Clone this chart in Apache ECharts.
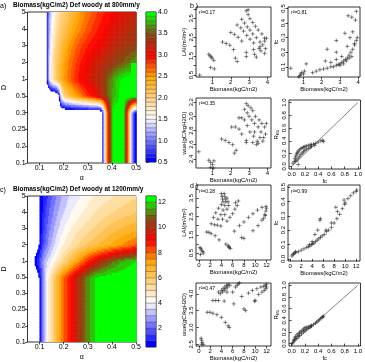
<!DOCTYPE html>
<html>
<head>
<meta charset="utf-8">
<script src="https://cdn.jsdelivr.net/npm/echarts@6/dist/echarts.min.js"></script>
<style>
  html, body { margin: 0; padding: 0; background: #fff; }
  #chart { width: 365px; height: 362px; }
</style>
</head>
<body>
<div id="chart"></div>
<script>
// ---- contour grids (alpha x D) ----
const alphaNodes = [0.05, 0.06, 0.07, 0.08, 0.09, 0.10, 0.11, 0.12, 0.13, 0.14, 0.15, 0.16, 0.17, 0.18, 0.19, 0.20,
  0.21, 0.22, 0.23, 0.24, 0.25, 0.26, 0.27, 0.28, 0.29, 0.30, 0.31, 0.32, 0.33, 0.34, 0.35, 0.36, 0.37, 0.38,
  0.39, 0.40, 0.41, 0.42, 0.43, 0.44, 0.45, 0.46, 0.47, 0.48, 0.49, 0.50];
const dLabels = ['0.1', '0.2', '0.25', '0.3', '0.5', '1', '2', '3', '4', '5'];

// biomass at 800 mm/y, one row per D
const bio800Low = [0, 0, 0, 0, 0, 0, 0, 0, 0, 0, 0, 0, 0, 0, 0, 0, 0, 0, 0, 0, 0, 0, 0, 0, 0, 0, 0, 0, 0, 0, 0,
  0.4, 1.6, 2.6, 3.2, 3.85, 4.0, 4.0, 4.0, 4.0, 3.9, 3.2, 2.3, 1.4, 0.8, 0.5];
const bio800D05 = [0, 0, 0, 0, 0, 0, 0, 0, 0, 0, 0, 0, 0,
  0.5, 1.5, 1.95, 2.07, 2.17, 2.27, 2.37, 2.45, 2.52, 2.6, 2.67, 2.74, 2.81, 2.88, 2.95, 3.0, 3.1, 3.2, 3.3, 3.4,
  3.5, 3.6, 3.7, 3.78, 3.85, 3.9, 3.94, 3.97, 4.0, 4.0, 4.0, 4.0, 3.97];
const bio800D1 = [0, 0, 0, 0, 0, 0, 0, 0,
  0.5, 1.3, 1.7, 1.95, 2.1, 2.25, 2.38, 2.5, 2.58, 2.65, 2.72, 2.79, 2.85, 2.91, 3.0, 3.04, 3.08, 3.12, 3.16,
  3.2, 3.24, 3.28, 3.32, 3.36, 3.42, 3.5, 3.58, 3.66, 3.74, 3.82, 3.88, 3.93, 3.97, 4.0, 4.0, 4.0];
const bio800D2 = [0, 0, 0, 0, 0, 0, 0, 0,
  0.6, 1.35, 1.7, 1.95, 2.1, 2.22, 2.33, 2.43, 2.52, 2.6, 2.67, 2.73, 2.79, 2.85, 2.9, 2.95, 3.0, 3.05, 3.09,
  3.13, 3.17, 3.2, 3.23, 3.26, 3.29, 3.32, 3.35, 3.38, 3.41, 3.44, 3.47, 3.5, 3.53, 3.56, 3.6, 3.63, 3.66, 3.7];
const bio800D3 = [0, 0, 0, 0, 0, 0, 0, 0,
  0.6, 1.25, 1.6, 1.85, 2.0, 2.12, 2.22, 2.32, 2.42, 2.5, 2.56, 2.62, 2.68, 2.73, 2.78, 2.82, 2.86, 2.9, 2.94,
  2.97, 3.0, 3.03, 3.06, 3.09, 3.12, 3.15, 3.18, 3.21, 3.24, 3.27, 3.3, 3.32, 3.35, 3.37, 3.39, 3.41, 3.43, 3.45];
const bio800D4 = [0, 0, 0, 0, 0, 0, 0, 0,
  0.6, 1.2, 1.55, 1.7, 1.85, 2.0, 2.1, 2.15, 2.22, 2.3, 2.37, 2.44, 2.5, 2.55, 2.6, 2.65, 2.7, 2.74, 2.78,
  2.82, 2.86, 2.9, 2.93, 2.97, 3.0, 3.03, 3.06, 3.09, 3.12, 3.15, 3.18, 3.2, 3.23, 3.25, 3.28, 3.3, 3.32, 3.35];
const bio800D5 = [0, 0, 0, 0, 0, 0, 0, 0,
  0.6, 1.1, 1.45, 1.6, 1.75, 1.85, 2.0, 2.05, 2.1, 2.15, 2.25, 2.3, 2.35, 2.45, 2.5, 2.55, 2.6, 2.65, 2.68,
  2.72, 2.75, 2.8, 2.83, 2.87, 2.9, 2.93, 2.97, 3.0, 3.03, 3.05, 3.08, 3.1, 3.12, 3.14, 3.16, 3.18, 3.19, 3.2];
const bio800 = [bio800Low, bio800Low, bio800Low, bio800Low, bio800D05, bio800D1, bio800D2, bio800D3, bio800D4, bio800D5];

// biomass at 1200 mm/y
const bio1200Low = [0, 0, 0, 0, 0,
  0.6, 2.0, 3.2, 4.0, 4.7, 5.3, 5.9, 6.5, 7.0, 7.5, 8.0, 8.35, 8.7, 9.0, 9.35, 9.7, 10.0, 10.35, 10.7, 11.0,
  11.3, 11.55, 11.8, 12.0, 12.1, 12.15, 12.2, 12.25, 12.3, 12.32, 12.35, 12.37, 12.39, 12.41, 12.43, 12.45,
  12.46, 12.47, 12.48, 12.49, 12.5];
const bio1200D1 = [0, 0, 0,
  0.6, 1.1, 1.7, 2.4, 3.0, 3.4, 3.75, 4.05, 4.4, 4.7, 5.0, 5.3, 5.6, 5.9, 6.2, 6.5, 6.8, 7.1, 7.4, 7.7, 8.0,
  8.3, 8.6, 8.9, 9.15, 9.4, 9.65, 9.9, 10.1, 10.3, 10.5, 10.7, 10.9, 11.05, 11.2, 11.35, 11.5, 11.6, 11.7,
  11.8, 11.9, 11.95, 12.0];
const bio1200D2 = [0, 0, 0, 0, 0,
  0.6, 1.3, 1.9, 2.4, 2.8, 3.15, 3.45, 3.75, 4.05, 4.3, 4.5, 4.7, 4.9, 5.05, 5.2, 5.35, 5.5, 5.65, 5.8, 5.95,
  6.1, 6.2, 6.3, 6.4, 6.5, 6.6, 6.7, 6.8, 6.9, 7.0, 7.1, 7.2, 7.3, 7.4, 7.5, 7.6, 7.7, 7.8, 7.9, 8.0, 8.1];
const bio1200D3 = [0, 0, 0, 0, 0,
  0.5, 1.1, 1.6, 2.0, 2.4, 2.7, 3.0, 3.3, 3.55, 3.8, 4.0, 4.2, 4.35, 4.5, 4.65, 4.8, 4.9, 5.0, 5.1, 5.2,
  5.3, 5.4, 5.5, 5.6, 5.7, 5.8, 5.9, 6.0, 6.1, 6.2, 6.3, 6.35, 6.4, 6.5, 6.55, 6.6, 6.65, 6.7, 6.75, 6.8, 6.85];
const bio1200D4 = [0, 0, 0, 0, 0,
  0.5, 0.9, 1.3, 1.7, 2.0, 2.3, 2.6, 2.85, 3.1, 3.3, 3.5, 3.65, 3.8, 4.0, 4.1, 4.2, 4.3, 4.4, 4.5, 4.6,
  4.7, 4.8, 4.9, 5.0, 5.1, 5.15, 5.2, 5.3, 5.35, 5.4, 5.5, 5.55, 5.6, 5.65, 5.7, 5.75, 5.8, 5.85, 5.9, 5.95, 6.0];
const bio1200D5 = [0, 0, 0, 0, 0,
  0.5, 0.8, 1.1, 1.4, 1.7, 2.0, 2.25, 2.5, 2.75, 2.95, 3.15, 3.3, 3.45, 3.6, 3.7, 3.8, 3.9, 4.0, 4.1, 4.2,
  4.3, 4.4, 4.5, 4.55, 4.6, 4.7, 4.75, 4.8, 4.85, 4.9, 4.95, 5.0, 5.05, 5.1, 5.15, 5.2, 5.25, 5.3, 5.35, 5.4, 5.45];
const bio1200 = [bio1200Low, bio1200Low, bio1200Low, bio1200Low, bio1200Low, bio1200D1, bio1200D2, bio1200D3, bio1200D4, bio1200D5];

const levels800 = [0.5, 0.6, 0.7, 0.8, 0.9, 1.0, 1.1, 1.2, 1.3, 1.4, 1.5, 1.6, 1.7, 1.8, 1.9, 2.0, 2.1, 2.2,
  2.3, 2.4, 2.5, 2.6, 2.7, 2.8, 2.9, 3.0, 3.1, 3.2, 3.3, 3.4, 3.5, 3.6, 3.7, 3.8, 3.9, 4.0];
const levels1200 = [0.5, 1, 1.5, 2, 2.5, 3, 3.5, 4, 4.5, 5, 5.5, 6, 6.5, 7, 7.5, 8, 8.5, 9, 9.5, 10, 10.5,
  11, 11.5, 12, 12.5];

// ---- scatter panels ----
const lai800 = [[0.3, 0.5], [0.8, 1.6], [0.87, 1.52], [0.93, 1.46], [0.98, 1.4], [1.07, 1.28], [0.9, 0.9], [1.1, 0.83],
  [1.55, 2.25], [1.75, 2.17], [1.95, 2.08], [2.15, 1.85], [2.25, 1.4], [2.35, 1.22],
  [2.0, 2.75], [2.2, 2.65], [2.4, 2.5], [2.6, 2.3],
  [2.35, 3.15], [2.55, 3.0], [2.7, 2.82], [2.88, 2.6], [3.05, 2.4], [3.25, 2.2],
  [2.6, 3.45], [2.75, 3.25], [2.9, 3.05], [3.05, 2.88], [3.2, 2.68], [3.4, 2.48], [3.6, 2.25],
  [2.85, 3.9], [2.95, 3.7], [3.05, 3.48], [3.2, 3.28], [3.35, 3.08], [3.5, 2.88], [3.7, 2.68], [3.85, 2.45],
  [2.95, 3.95], [2.85, 1.7], [2.85, 1.48], [3.25, 1.85], [3.3, 1.6], [3.4, 1.45], [3.55, 1.9], [3.65, 1.78],
  [3.85, 1.65], [3.6, 2.0], [3.75, 2.1], [3.9, 1.9], [3.85, 2.3], [3.95, 2.45]];
const fc800 = [[0.3, 0.09], [0.75, 0.03], [0.8, 0.04], [0.85, 0.05], [0.9, 0.06], [1.0, 0.05], [1.05, 0.07], [1.15, 0.12],
  [1.5, 0.06], [1.7, 0.07], [1.9, 0.08], [2.1, 0.085], [2.3, 0.09], [2.5, 0.1], [2.65, 0.1], [2.8, 0.11],
  [2.9, 0.115], [3.0, 0.12], [3.1, 0.13], [3.2, 0.14], [3.3, 0.15], [3.4, 0.16], [3.5, 0.18], [3.6, 0.2],
  [3.7, 0.22], [3.8, 0.25], [3.9, 0.28], [3.95, 0.3],
  [2.2, 0.14], [2.3, 0.22], [2.5, 0.13], [2.8, 0.15], [2.8, 0.28], [2.8, 0.2], [3.1, 0.17], [3.27, 0.33],
  [3.45, 0.45], [3.4, 0.24], [3.55, 0.3], [3.65, 0.44], [3.7, 0.34], [3.8, 0.26], [3.85, 0.42], [3.9, 0.48],
  [3.0, 0.11], [3.2, 0.12], [3.35, 0.14], [3.5, 0.16], [3.65, 0.17]];
const wue800 = [[0.25, 2.5], [0.8, 2.38], [0.9, 2.35], [1.0, 2.32], [1.08, 2.37], [0.9, 2.28], [1.05, 2.27],
  [1.5, 2.68], [1.7, 2.66], [1.9, 2.63], [2.1, 2.6], [2.2, 2.48], [2.3, 2.52],
  [2.05, 2.85], [2.25, 2.85], [2.45, 2.82], [2.6, 2.75],
  [2.45, 2.98], [2.6, 2.98], [2.75, 2.95], [2.9, 2.87], [3.05, 2.78], [3.25, 2.72], [3.45, 2.65],
  [2.75, 3.1], [2.9, 3.05], [3.0, 3.0], [3.15, 2.95], [3.3, 2.9], [3.5, 2.85], [3.65, 2.78],
  [2.85, 3.18], [2.95, 3.15], [3.1, 3.12], [3.2, 3.08], [3.35, 3.0], [3.55, 2.95], [3.7, 2.9], [3.85, 2.85],
  [3.95, 2.9], [2.85, 2.66], [2.85, 2.63], [3.2, 2.63], [3.4, 2.6], [3.5, 2.62], [3.6, 2.7], [3.8, 2.7],
  [3.9, 2.75], [3.3, 2.78], [3.75, 2.65]];
const reu800 = [[0.02, 0.05], [0.04, 0.08], [0.05, 0.12], [0.06, 0.15], [0.07, 0.18], [0.08, 0.2], [0.09, 0.22],
  [0.1, 0.24], [0.12, 0.26], [0.14, 0.28], [0.16, 0.29], [0.18, 0.3], [0.2, 0.31], [0.22, 0.32], [0.25, 0.33],
  [0.28, 0.34], [0.3, 0.34], [0.33, 0.35], [0.36, 0.36], [0.4, 0.38], [0.44, 0.4], [0.47, 0.41], [0.48, 0.39],
  [0.06, 0.08], [0.08, 0.1], [0.1, 0.13], [0.12, 0.16], [0.14, 0.19], [0.16, 0.21], [0.18, 0.23], [0.2, 0.25],
  [0.22, 0.27], [0.25, 0.28], [0.28, 0.3], [0.3, 0.31], [0.35, 0.33], [0.1, 0.03]];
const lai1200 = [[0.2, 0.8], [0.35, 0.74], [0.5, 0.66], [0.7, 0.58], [0.3, 0.42], [0.8, 0.5],
  [1.4, 1.65], [1.8, 1.63], [2.2, 1.56], [2.9, 1.45], [3.6, 1.22], [4.8, 0.99], [5.3, 0.85], [5.4, 0.8], [5.2, 0.9],
  [2.2, 2.1], [2.8, 2.05], [3.3, 2.02], [3.9, 1.98],
  [4.0, 3.75], [4.1, 3.6], [4.2, 3.45], [4.3, 3.3], [4.0, 3.15], [3.5, 2.95], [3.0, 2.7], [2.6, 2.45],
  [4.5, 3.75], [4.6, 3.6], [4.7, 3.45], [4.8, 3.3], [4.6, 3.1], [4.3, 2.85], [3.9, 2.6], [3.4, 2.35],
  [5.0, 3.5], [5.2, 3.3], [5.3, 3.1], [5.0, 2.9], [4.6, 2.6], [4.2, 2.35],
  [6.5, 3.25], [6.8, 3.1], [6.4, 2.9], [6.0, 2.65], [5.5, 2.45], [5.0, 2.25], [7.0, 3.35],
  [7.2, 2.0], [8.0, 2.2], [8.8, 2.45], [9.6, 2.65], [10.4, 2.85], [11.2, 3.0], [11.9, 3.05], [12.0, 2.95],
  [11.9, 2.8], [11.7, 2.6], [11.5, 2.4],
  [9.6, 1.72], [10.5, 2.0], [11.2, 2.3], [11.8, 2.55], [7.6, 1.35], [8.0, 1.3], [6.3, 1.7], [5.6, 0.75]];
const fc1200 = [[0.3, 0.02], [0.5, 0.03], [0.6, 0.035], [0.8, 0.04], [1.0, 0.045], [1.5, 0.05], [2.0, 0.06],
  [2.5, 0.07], [3.0, 0.08], [3.3, 0.085], [3.6, 0.09], [3.9, 0.1], [4.1, 0.105], [4.3, 0.11], [4.6, 0.12],
  [4.9, 0.13], [5.2, 0.14], [5.5, 0.15], [5.8, 0.16], [6.2, 0.17], [6.6, 0.19], [7.0, 0.2], [7.5, 0.22],
  [8.0, 0.25], [8.5, 0.28], [9.0, 0.31], [9.5, 0.35], [10.0, 0.39], [10.5, 0.42], [11.0, 0.44], [11.5, 0.46],
  [12.0, 0.47], [12.1, 0.48],
  [4.5, 0.17], [5.0, 0.2], [5.5, 0.28], [5.4, 0.27], [6.5, 0.2], [7.5, 0.25], [8.3, 0.36], [8.6, 0.33],
  [9.8, 0.41], [9.9, 0.38], [4.0, 0.12], [3.5, 0.1], [1.0, 0.05]];
const wue1200 = [[0.4, 2.68], [0.5, 2.62], [0.6, 2.55], [0.8, 2.5], [0.5, 2.5],
  [1.5, 3.45], [2.0, 3.45], [2.5, 3.42], [3.2, 3.38], [4.0, 3.3], [4.7, 3.15], [5.2, 3.05], [5.4, 3.0],
  [2.5, 3.8], [3.0, 3.8], [3.5, 3.8], [4.5, 3.78], [6.2, 3.7],
  [3.8, 4.0], [4.0, 4.1], [4.3, 4.15], [4.6, 4.2], [4.9, 4.25], [5.2, 4.28], [3.5, 4.05], [4.2, 4.05],
  [4.5, 4.1], [4.8, 4.15], [5.1, 4.2], [5.5, 4.25], [6.5, 4.2], [6.8, 4.25], [7.0, 4.3], [7.2, 4.32],
  [6.0, 4.05], [5.0, 4.05],
  [7.6, 3.92], [8.0, 3.55], [8.3, 3.5], [8.8, 4.02], [9.5, 4.1], [10.3, 4.15], [11.0, 4.2], [11.5, 4.22],
  [11.8, 4.25], [12.0, 4.28], [12.0, 4.2], [11.9, 4.15], [11.6, 4.1], [11.2, 4.05], [10.6, 3.98], [10.0, 3.8], [9.9, 3.78]];
const reu1200 = [[0.01, 0.0], [0.02, 0.02], [0.03, 0.05], [0.04, 0.07], [0.05, 0.1], [0.06, 0.12], [0.08, 0.15],
  [0.1, 0.17], [0.12, 0.19], [0.14, 0.21], [0.16, 0.23], [0.18, 0.25], [0.2, 0.27], [0.22, 0.28], [0.25, 0.29],
  [0.28, 0.3], [0.3, 0.31], [0.33, 0.33], [0.36, 0.35], [0.38, 0.37], [0.4, 0.39], [0.42, 0.41], [0.44, 0.43],
  [0.46, 0.45], [0.47, 0.46], [0.48, 0.47],
  [0.05, 0.06], [0.08, 0.09], [0.1, 0.12], [0.12, 0.14], [0.15, 0.17], [0.18, 0.2], [0.2, 0.22], [0.22, 0.24],
  [0.25, 0.26], [0.28, 0.28], [0.3, 0.3]];
const oneToOne = [[0, 0], [1, 1]];

const FONT = 'Liberation Sans, Arial, sans-serif';

// palette: blue -> white -> orange -> red -> brown -> green
const paletteStops = [[0, [0, 0, 255]], [0.2857, [255, 255, 255]], [0.5714, [255, 165, 0]],
  [0.7143, [255, 0, 0]], [0.857, [139, 69, 19]], [1, [0, 255, 0]]];
function paletteAt(t) {
  for (let i = 1; i < paletteStops.length; i++) {
    if (t <= paletteStops[i][0]) {
      const [t0, c0] = paletteStops[i - 1], [t1, c1] = paletteStops[i];
      const f = (t - t0) / (t1 - t0);
      const c = c0.map((v, k) => Math.round(v + (c1[k] - v) * f));
      return 'rgb(' + c.join(',') + ')';
    }
  }
  return 'rgb(0,255,0)';
}
function bandColors(levels) {
  const n = levels.length - 1;
  return levels.slice(0, n).map((v, k) => paletteAt(k / (n - 1)));
}
const colors800 = bandColors(levels800);
const colors1200 = bandColors(levels1200);

function bandOf(val, levels) {
  if (val < levels[0]) return -1;
  for (let k = 0; k < levels.length - 1; k++) {
    if (val < levels[k + 1]) return k;
  }
  return levels.length - 2;
}

// filled contour: each grid cell is shaded from its four corner values
function contourSeries(z, levels, colors, axis) {
  const cells = [];
  for (let j = 0; j < dLabels.length - 1; j++) {
    for (let i = 0; i < alphaNodes.length - 1; i++) cells.push([i, j]);
  }
  return {
    type: 'custom', xAxisIndex: axis, yAxisIndex: axis, clip: true, silent: true,
    data: cells,
    renderItem(params, api) {
      const i = api.value(0), j = api.value(1);
      const a0 = alphaNodes[i], a1 = alphaNodes[i + 1];
      const z00 = z[j][i], z10 = z[j][i + 1], z01 = z[j + 1][i], z11 = z[j + 1][i + 1];
      const NX = 2, NY = 10;
      const children = [];
      for (let sy = 0; sy < NY; sy++) {
        for (let sx = 0; sx < NX; sx++) {
          const u = (sx + 0.5) / NX, v = (sy + 0.5) / NY;
          const val = z00 * (1 - u) * (1 - v) + z10 * u * (1 - v) + z01 * (1 - u) * v + z11 * u * v;
          const k = bandOf(val, levels);
          if (k < 0) continue;
          const p0 = api.coord([a0 + (a1 - a0) * sx / NX, j + sy / NY]);
          const p1 = api.coord([a0 + (a1 - a0) * (sx + 1) / NX, j + (sy + 1) / NY]);
          children.push({
            type: 'rect',
            shape: { x: p0[0], y: p1[1], width: p1[0] - p0[0] + 0.6, height: p0[1] - p1[1] + 0.6 },
            style: { fill: colors[k] }
          });
        }
      }
      return { type: 'group', children };
    }
  };
}

function colorbarSeries(levels, colors, axis) {
  return {
    type: 'custom', xAxisIndex: axis, yAxisIndex: axis, silent: true,
    data: levels.slice(0, -1).map((v, k) => [v, levels[k + 1], k]),
    renderItem(params, api) {
      const p0 = api.coord([0, api.value(0)]);
      const p1 = api.coord([1, api.value(1)]);
      return {
        type: 'rect',
        shape: { x: p0[0], y: p1[1], width: p1[0] - p0[0], height: p0[1] - p1[1] },
        style: { fill: colors[api.value(2)], stroke: 'rgba(40,40,40,0.5)', lineWidth: 0.5 }
      };
    }
  };
}

const grids = [
  { left: 16, top: 12, width: 120, height: 151 },   // a
  { left: 146, top: 12, width: 10, height: 150 },   // a key
  { left: 16, top: 196, width: 120, height: 151 },  // c
  { left: 146, top: 196, width: 10, height: 151 },  // c key
  { left: 196, top: 7, width: 75, height: 70 },     // b lai
  { left: 288, top: 7, width: 72, height: 70 },     // b fc
  { left: 196, top: 98, width: 75, height: 70 },    // b wue
  { left: 289, top: 100, width: 72, height: 69 },   // b reu
  { left: 196, top: 185, width: 75, height: 75 },   // d lai
  { left: 288, top: 185, width: 72, height: 76 },   // d fc
  { left: 196, top: 283, width: 75, height: 69 },   // d wue
  { left: 289, top: 283, width: 72, height: 70 }    // d reu
].map(g => Object.assign(g, { show: true, borderColor: '#000', borderWidth: 0.8, backgroundColor: 'transparent' }));

const tickStyle = { length: 2.5, lineStyle: { color: '#000', width: 0.7 } };
function axis(grid, type, min, max, ticks, labels, o) {
  o = o || {};
  return {
    gridIndex: grid, type: 'value', min, max, show: o.show !== false,
    position: o.position, splitLine: { show: false }, axisLine: { show: false },
    axisTick: Object.assign({ show: true, customValues: ticks }, tickStyle),
    axisLabel: {
      customValues: labels, fontSize: o.fontSize || 6, color: '#000', fontFamily: FONT,
      margin: o.margin || 2, rotate: o.rotate || 0, formatter: o.formatter
    },
    name: o.name || '', nameLocation: 'middle', nameGap: o.nameGap || 10, nameRotate: o.nameRotate,
    nameTextStyle: Object.assign({ fontSize: o.nameSize || 6, color: '#000', fontFamily: FONT }, o.nameStyle || {})
  };
}

const alphaTicks = [0.1, 0.2, 0.3, 0.4, 0.5];
const dIdx = [0, 1, 2, 3, 4, 5, 6, 7, 8, 9];
const dFmt = v => dLabels[Math.round(v)];
const f1 = v => v.toFixed(1);
const reuName = { name: '{r|R}{s|EU}', nameStyle: { rich: { r: { fontSize: 6, fontFamily: FONT }, s: { fontSize: 4, fontFamily: FONT, verticalAlign: 'bottom', padding: [3, 0, 0, 0] } } } };

const xAxes = [
  axis(0, 'value', 0.05, 0.5, alphaTicks, alphaTicks, { fontSize: 7, formatter: f1, name: 'α', nameGap: 12, nameSize: 7 }),
  axis(1, 'value', 0, 1, [], [], { show: false }),
  axis(2, 'value', 0.05, 0.5, alphaTicks, alphaTicks, { fontSize: 7, formatter: f1, name: 'α', nameGap: 12, nameSize: 7 }),
  axis(3, 'value', 0, 1, [], [], { show: false }),
  axis(4, 'value', 0.1, 4.2, [1, 2, 3, 4], [1, 2, 3, 4], { name: 'Biomass(kgC/m2)', nameGap: 9 }),
  axis(5, 'value', 0.15, 4.1, [1, 2, 3, 4], [1, 2, 3, 4], { name: 'Biomass(kgC/m2)', nameGap: 9 }),
  axis(6, 'value', 0.1, 4.2, [1, 2, 3, 4], [1, 2, 3, 4], { name: 'Biomass(kgC/m2)', nameGap: 9 }),
  axis(7, 'value', -0.04, 1.04, [0, 0.2, 0.4, 0.6, 0.8, 1], [0, 0.2, 0.4, 0.6, 0.8, 1], { formatter: f1, name: 'fc', nameGap: 9 }),
  axis(8, 'value', -0.5, 12.8, [0, 2, 4, 6, 8, 10, 12], [0, 2, 4, 6, 8, 10, 12], { name: 'Biomass(kgC/m2)', nameGap: 9 }),
  axis(9, 'value', -0.4, 12.7, [0, 2, 4, 6, 8, 10, 12], [0, 2, 4, 6, 8, 10, 12], { name: 'Biomass(kgC/m2)', nameGap: 9 }),
  axis(10, 'value', -0.5, 12.8, [0, 2, 4, 6, 8, 10, 12], [0, 2, 4, 6, 8, 10, 12], { name: 'Biomass(kgC/m2)', nameGap: 9 }),
  axis(11, 'value', -0.04, 1.04, [0, 0.2, 0.4, 0.6, 0.8, 1], [0, 0.2, 0.4, 0.6, 0.8, 1], { formatter: f1, name: 'fc', nameGap: 9 })
];

const yAxes = [
  axis(0, 'value', 0, 9, dIdx, dIdx, { fontSize: 7, formatter: dFmt, name: 'D', nameGap: 13, nameSize: 7 }),
  axis(1, 'value', 0.5, 4.0, [0.5, 1, 1.5, 2, 2.5, 3, 3.5, 4], [0.5, 1, 1.5, 2, 2.5, 3, 3.5, 4], { position: 'right', fontSize: 7, formatter: f1 }),
  axis(2, 'value', 0, 9, dIdx, dIdx, { fontSize: 7, formatter: dFmt, name: 'D', nameGap: 13, nameSize: 7 }),
  axis(3, 'value', 0.5, 12.5, [2, 4, 6, 8, 10, 12], [2, 4, 6, 8, 10, 12], { position: 'right', fontSize: 7 }),
  axis(4, 'value', 0.4, 4.1, [0.5, 1, 1.5, 2, 2.5, 3, 3.5, 4], [0.5, 1.5, 2.5, 3.5], { rotate: 90, formatter: f1, name: 'LAI(m²/m²)', nameGap: 9 }),
  axis(5, 'value', 0.03, 0.51, [0.1, 0.2, 0.3, 0.4, 0.5], [0.1, 0.2, 0.3, 0.4, 0.5], { rotate: 90, formatter: f1, name: 'fc', nameGap: 9 }),
  axis(6, 'value', 2.27, 3.26, [2.4, 2.6, 2.8, 3.0, 3.2], [2.4, 2.6, 2.8, 3.0, 3.2], { rotate: 90, formatter: f1, name: 'wue(gC/kgH2O)', nameGap: 9 }),
  axis(7, 'value', -0.04, 1.04, [0, 0.2, 0.4, 0.6, 0.8, 1], [0, 0.2, 0.4, 0.6, 0.8, 1], Object.assign({ rotate: 90, formatter: f1, nameGap: 9 }, reuName)),
  axis(8, 'value', 0.12, 4.22, [0.5, 1, 1.5, 2, 2.5, 3, 3.5, 4], [0.5, 1.5, 2.5, 3.5], { rotate: 90, formatter: f1, name: 'LAI(m²/m²)', nameGap: 9 }),
  axis(9, 'value', -0.015, 0.515, [0, 0.1, 0.2, 0.3, 0.4, 0.5], [0, 0.1, 0.2, 0.3, 0.4, 0.5], { rotate: 90, formatter: f1, name: 'fc', nameGap: 9 }),
  axis(10, 'value', 2.45, 4.32, [2.5, 3, 3.5, 4], [2.5, 3, 3.5, 4], { rotate: 90, formatter: f1, name: 'wue(gC/kgH2O)', nameGap: 9 }),
  axis(11, 'value', -0.04, 1.04, [0, 0.2, 0.4, 0.6, 0.8, 1], [0, 0.2, 0.4, 0.6, 0.8, 1], Object.assign({ rotate: 90, formatter: f1, nameGap: 9 }, reuName))
];

const plus = 'path://M5,0L5,10M0,5L10,5';
function scatter(data, axisIdx) {
  return {
    type: 'scatter', xAxisIndex: axisIdx, yAxisIndex: axisIdx, data, silent: true,
    symbol: plus, symbolSize: 4,
    itemStyle: { color: 'transparent', borderColor: '#222', borderWidth: 0.7 }
  };
}
function diag(axisIdx) {
  return {
    type: 'line', xAxisIndex: axisIdx, yAxisIndex: axisIdx, data: oneToOne, silent: true,
    symbol: 'none', lineStyle: { color: '#333', width: 0.6 }
  };
}

function txt(left, top, text, size, bold) {
  return { type: 'text', left, top, silent: true,
    style: { text, fontSize: size, fontWeight: bold ? 'bold' : 'normal', fontFamily: FONT, fill: '#000' } };
}

const chart = echarts.init(document.getElementById('chart'));
chart.setOption({
  animation: false,
  backgroundColor: '#fff',
  grid: grids,
  xAxis: xAxes,
  yAxis: yAxes,
  series: [
    contourSeries(bio800, levels800, colors800, 0),
    colorbarSeries(levels800, colors800, 1),
    contourSeries(bio1200, levels1200, colors1200, 2),
    colorbarSeries(levels1200, colors1200, 3),
    scatter(lai800, 4), scatter(fc800, 5), scatter(wue800, 6), scatter(reu800, 7), diag(7),
    scatter(lai1200, 8), scatter(fc1200, 9), scatter(wue1200, 10), scatter(reu1200, 11), diag(11)
  ],
  graphic: [
    txt(0, 3, 'a)', 7),
    txt(13, 2, 'Biomass(kgC/m2) Def woody at 800mm/y', 6.5, true),
    txt(190, 3, 'b )', 7),
    txt(0, 187, 'c)', 7),
    txt(13, 186, 'Biomass(kgC/m2) Def woody at 1200mm/y', 6.5, true),
    txt(190, 183, 'd )', 7),
    txt(199, 10, 'r²=0.17', 5),
    txt(291, 10, 'r²=0.81', 5),
    txt(199, 101, 'r²=0.35', 5),
    txt(199, 189, 'r²=0.28', 5),
    txt(291, 189, 'r²=0.99', 5),
    txt(199, 286, 'r²=0.47', 5)
  ]
});
</script>
</body>
</html>
